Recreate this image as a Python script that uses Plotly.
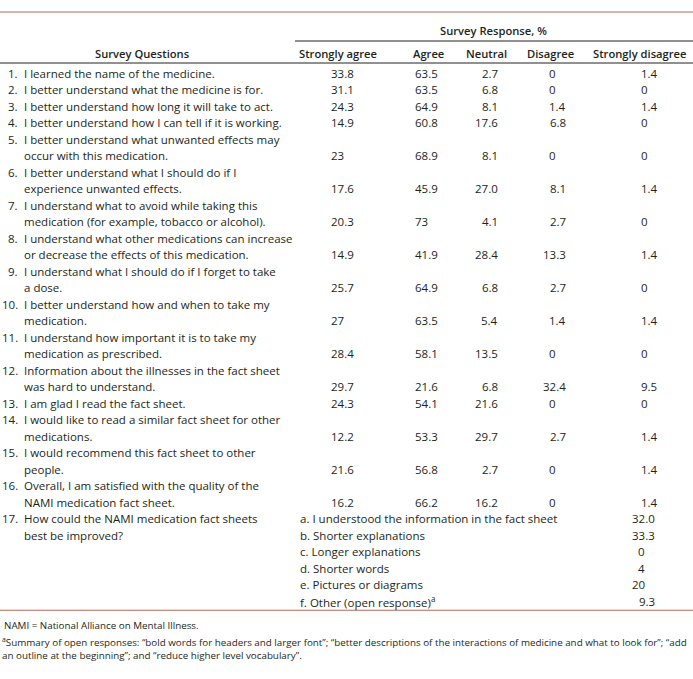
import plotly.graph_objects as go

# ---------------- data ----------------
questions = [
    ["I learned the name of the medicine."],
    ["I better understand what the medicine is for."],
    ["I better understand how long it will take to act."],
    ["I better understand how I can tell if it is working."],
    ["I better understand what unwanted effects may", "occur with this medication."],
    ["I better understand what I should do if I", "experience unwanted effects."],
    ["I understand what to avoid while taking this", "medication (for example, tobacco or alcohol)."],
    ["I understand what other medications can increase", "or decrease the effects of this medication."],
    ["I understand what I should do if I forget to take", "a dose."],
    ["I better understand how and when to take my", "medication."],
    ["I understand how important it is to take my", "medication as prescribed."],
    ["Information about the illnesses in the fact sheet", "was hard to understand."],
    ["I am glad I read the fact sheet."],
    ["I would like to read a similar fact sheet for other", "medications."],
    ["I would recommend this fact sheet to other", "people."],
    ["Overall, I am satisfied with the quality of the", "NAMI medication fact sheet."],
    ["How could the NAMI medication fact sheets", "best be improved?"],
]
strongly_agree = ["33.8", "31.1", "24.3", "14.9", "23", "17.6", "20.3", "14.9", "25.7",
                  "27", "28.4", "29.7", "24.3", "12.2", "21.6", "16.2"]
agree = ["63.5", "63.5", "64.9", "60.8", "68.9", "45.9", "73", "41.9", "64.9",
         "63.5", "58.1", "21.6", "54.1", "53.3", "56.8", "66.2"]
neutral = ["2.7", "6.8", "8.1", "17.6", "8.1", "27.0", "4.1", "28.4", "6.8",
           "5.4", "13.5", "6.8", "21.6", "29.7", "2.7", "16.2"]
disagree = ["0", "0", "1.4", "6.8", "0", "8.1", "2.7", "13.3", "2.7",
            "1.4", "0", "32.4", "0", "2.7", "0", "0"]
strongly_disagree = ["1.4", "0", "1.4", "0", "0", "1.4", "0", "1.4", "0",
                     "1.4", "0", "9.5", "0", "1.4", "1.4", "1.4"]
improve_options = ["a. I understood the information in the fact sheet",
                   "b. Shorter explanations",
                   "c. Longer explanations",
                   "d. Shorter words",
                   "e. Pictures or diagrams",
                   "f. Other (open response)<sup>a</sup>"]
improve_values = ["32.0", "33.3", "0", "4", "20", "9.3"]
response_labels = ["Strongly agree", "Agree", "Neutral", "Disagree", "Strongly disagree"]
footnotes = ["NAMI = National Alliance on Mental Illness.",
             "<sup>a</sup>Summary of open responses: \u201cbold words for headers and larger font\u201d; \u201cbetter descriptions of the interactions of medicine and what to look for\u201d; \u201cadd",
             "an outline at the beginning\u201d; and \u201creduce higher level vocabulary\u201d."]

# ---------------- layout constants ----------------
W, H = 693, 679
FONT = "Open Sans"
FS = 11.5
TXT = "#231f20"
RED = "#b5685a"
PITCH = 16.5
Y_TOP = 12
Y_SPAN = 30
Y_SPAN_LINE = 41
Y_HEAD = 53
Y_HEAD_LINE = 63
Y_ROW0 = 73
FRAC_W = 9.5    # approx width of ".d" part for decimal alignment

NUM_X = 19      # right edge of question numbers
Q_X = 23        # left edge of question text
OPT_X = 299
val_cols = [(330, "left"), (414, "left"), (489, "dec"), (557, "dec"), (640, "left")]
head_x = [338, 428, 486, 550, 640]

fig = go.Figure()
ann = []


def text(x, y, s, anchor="left", weight=None, size=FS):
    f = dict(family=FONT, size=size, color=TXT)
    if weight:
        f["weight"] = weight
    ann.append(dict(x=x, y=y, xref="x", yref="y", text=s, showarrow=False,
                    xanchor=anchor, yanchor="middle", align="left", borderpad=0, font=f))


def value(x, y, s, mode):
    if mode == "dec":
        xr = x + (FRAC_W if "." in s else 0)
        text(xr, y, s, "right")
    else:
        text(x, y, s, mode)


# header
text(493, Y_SPAN, "Survey Response, %", "center", 600, 11.2)
text(142, Y_HEAD, "Survey Questions", "center", 600, 11.2)
for hx, lab in zip(head_x, response_labels):
    text(hx, Y_HEAD, lab, "center", 600, 11.2)

# rows
value_cols = [strongly_agree, agree, neutral, disagree, strongly_disagree]
y = Y_ROW0
for i, lines in enumerate(questions):
    text(NUM_X, y, f"{i + 1}.", "right")
    for k, ln in enumerate(lines):
        text(Q_X, y + k * PITCH, ln, "left")
    if i < len(strongly_agree):
        yv = y + (len(lines) - 1) * PITCH
        for (cx, mode), col in zip(val_cols, value_cols):
            value(cx, yv, col[i], mode)
        y += len(lines) * PITCH
    else:
        for k, (opt, v) in enumerate(zip(improve_options, improve_values)):
            text(OPT_X, y + k * PITCH, opt, "left")
            value(646, y + k * PITCH, v, "dec")
        y += len(improve_options) * PITCH

Y_BOTTOM = y - PITCH / 2 + 1
text(3, Y_BOTTOM + 15, footnotes[0], "left", size=9.8)
text(1, Y_BOTTOM + 38, footnotes[1] + "<br>" + footnotes[2], "left", size=9.8)

shapes = [
    dict(type="line", xref="x", yref="y", x0=0, x1=W, y0=Y_TOP, y1=Y_TOP, line=dict(color=RED, width=1)),
    dict(type="line", xref="x", yref="y", x0=295, x1=W, y0=Y_SPAN_LINE, y1=Y_SPAN_LINE, line=dict(color="#222", width=1)),
    dict(type="line", xref="x", yref="y", x0=0, x1=W, y0=Y_HEAD_LINE, y1=Y_HEAD_LINE, line=dict(color="#222", width=1)),
    dict(type="line", xref="x", yref="y", x0=0, x1=W, y0=Y_BOTTOM, y1=Y_BOTTOM, line=dict(color=RED, width=1)),
]

fig.update_layout(
    width=W, height=H, margin=dict(l=0, r=0, t=0, b=0),
    paper_bgcolor="white", plot_bgcolor="white",
    xaxis=dict(range=[0, W], visible=False, fixedrange=True),
    yaxis=dict(range=[H, 0], visible=False, fixedrange=True),
    annotations=ann, shapes=shapes, showlegend=False,
)
# remove the default 8px page margin so the figure sits at the window's top-left corner
fig.write_html("out.html", config={"displayModeBar": False, "staticPlot": True},
               post_script="document.body.style.margin='0';document.body.style.overflow='hidden';")
